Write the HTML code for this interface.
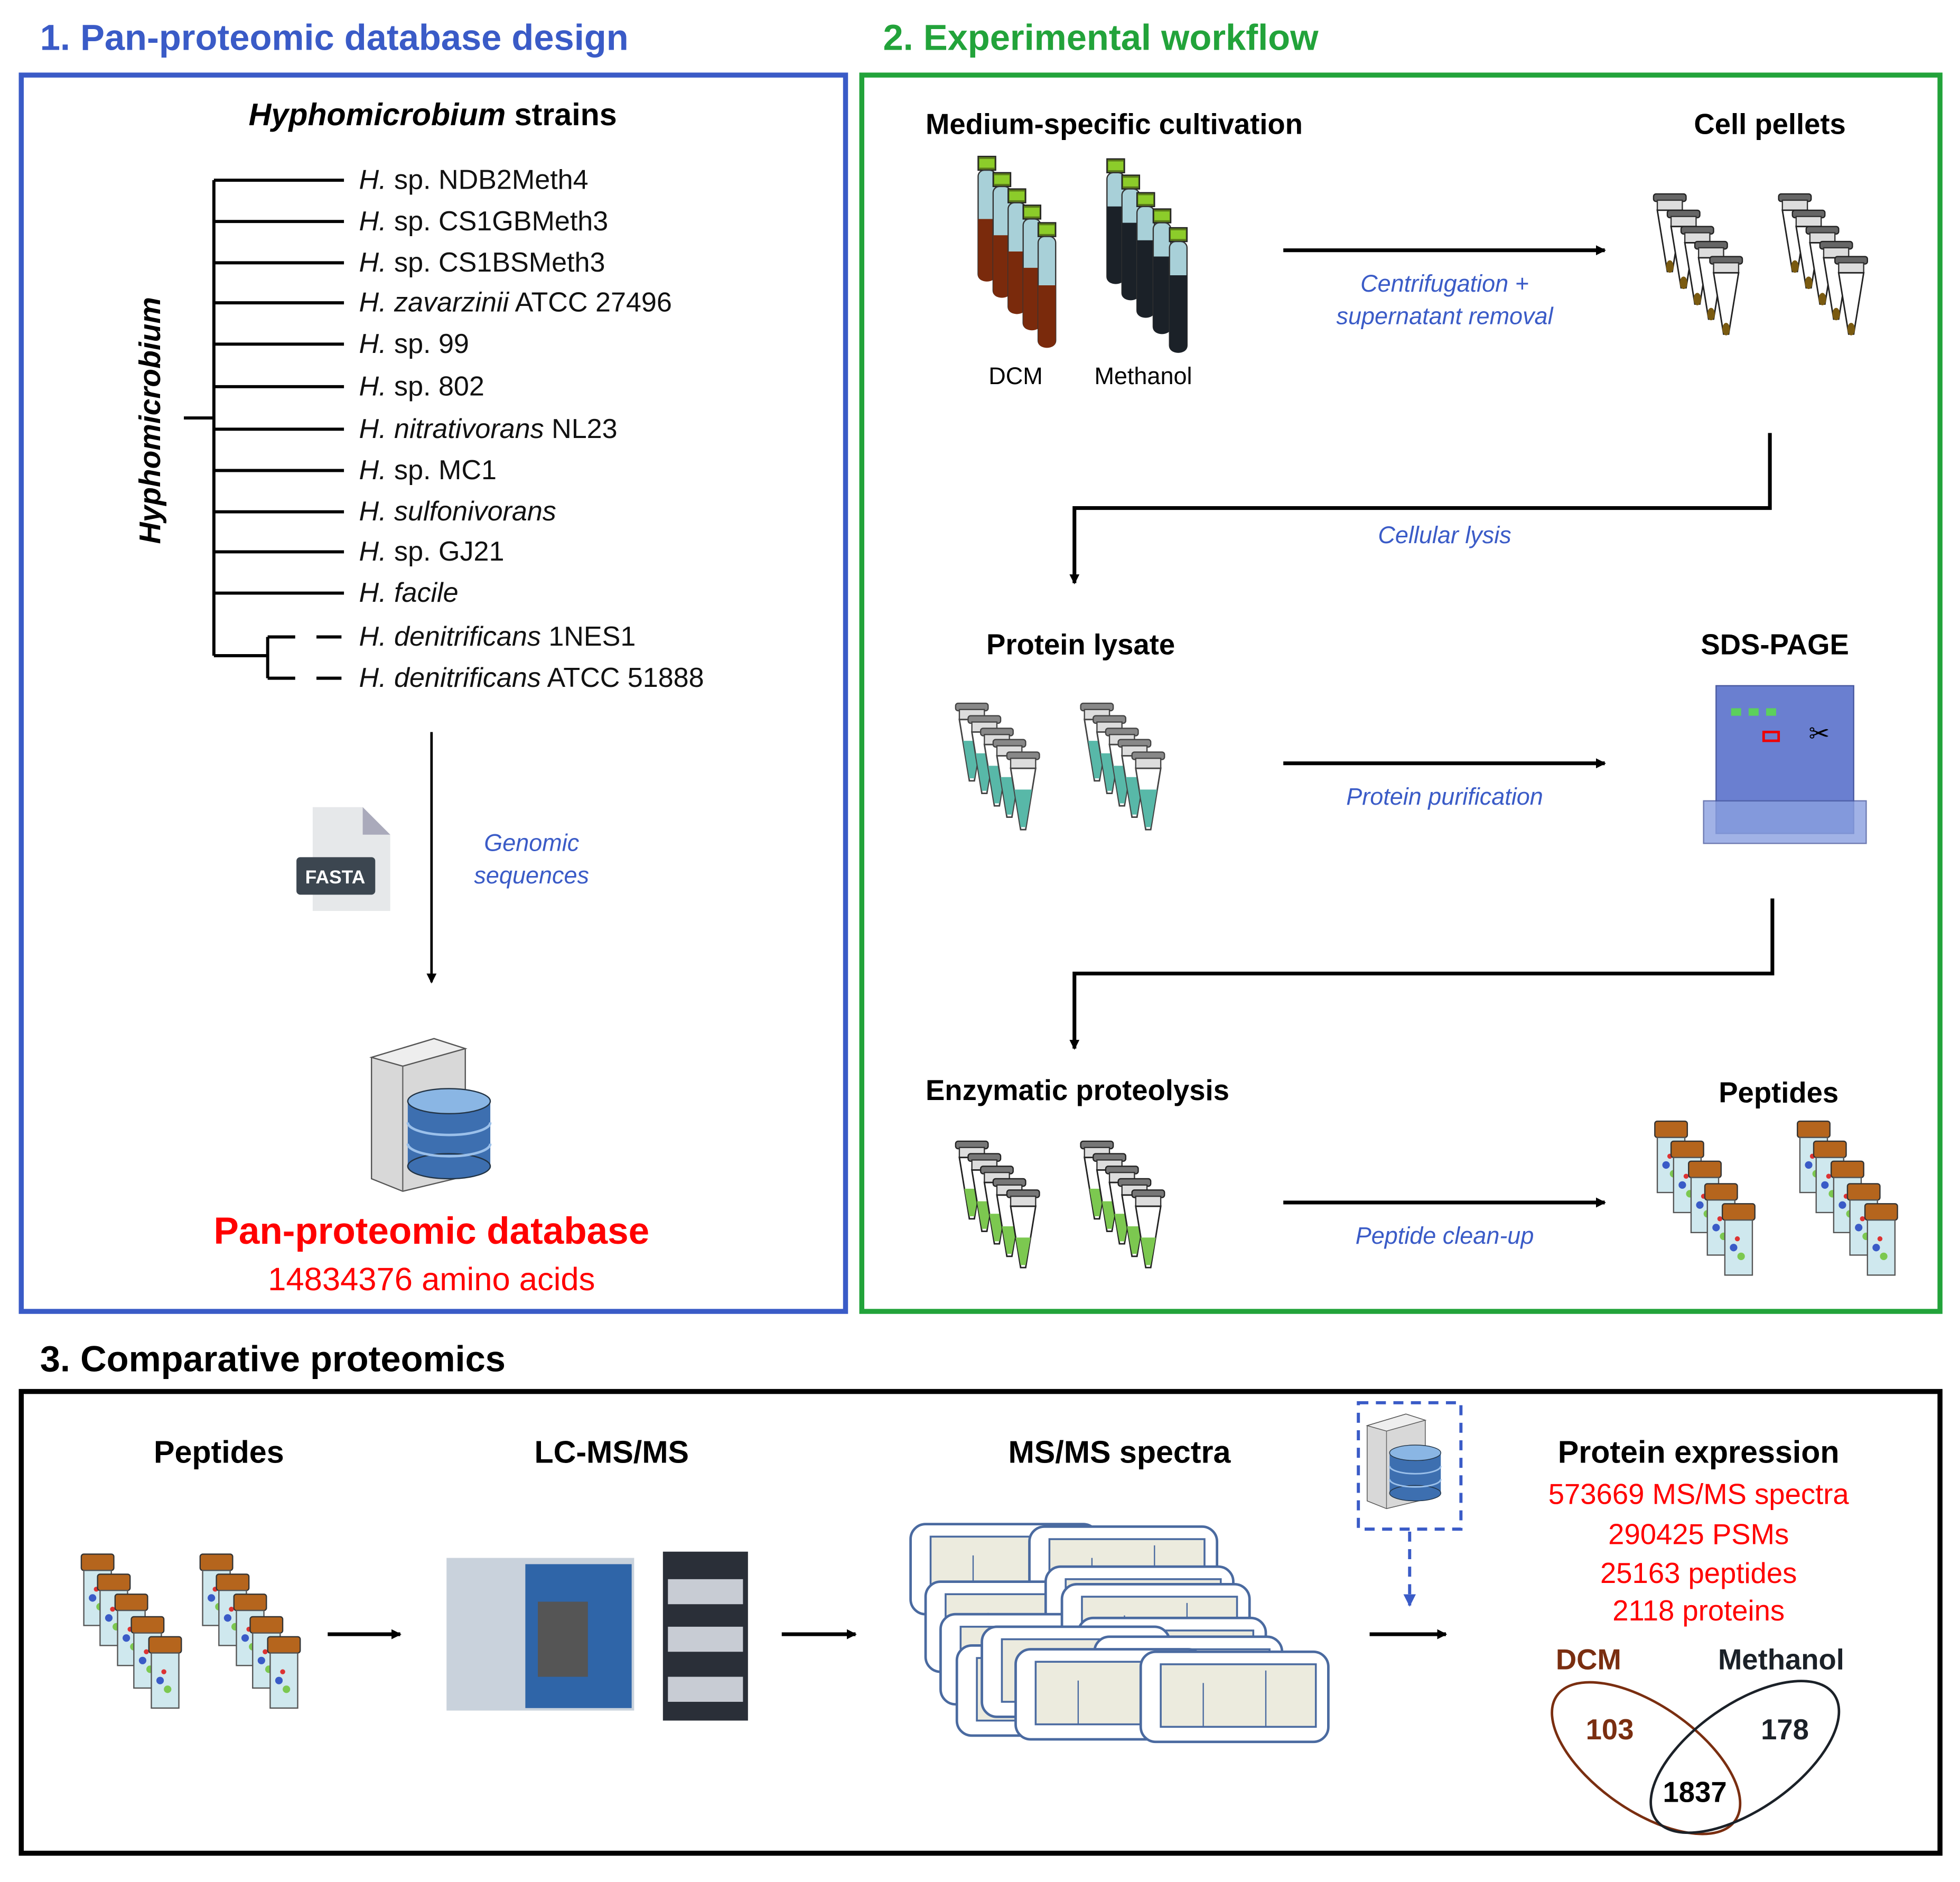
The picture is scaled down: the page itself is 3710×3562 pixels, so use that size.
<!DOCTYPE html>
<html><head><meta charset="utf-8"><style>html,body{margin:0;padding:0;background:#fff}svg{display:block}</style></head>
<body>
<svg width="3710" height="3562" viewBox="0 0 1567 1504" preserveAspectRatio="none" xmlns="http://www.w3.org/2000/svg" font-family="Liberation Sans, sans-serif">
<defs>
<marker id="ah" markerWidth="8" markerHeight="8" refX="7" refY="4" orient="auto" markerUnits="userSpaceOnUse"><path d="M0,0 L8,4 L0,8z" fill="#000"/></marker>
<marker id="ahb" markerWidth="10" markerHeight="10" refX="9" refY="5" orient="auto" markerUnits="userSpaceOnUse"><path d="M0,0 L10,5 L0,10z" fill="#3a5bc7"/></marker>
<g id="tubeR"><rect x="0" y="0" width="14" height="11" fill="#5a7a1a" stroke="#222" stroke-width="1"/><rect x="1" y="2" width="12" height="7" fill="#8ccc2a"/><rect x="0" y="11" width="14" height="88" rx="5" fill="#a8d0d8" stroke="#333" stroke-width="1"/><path d="M0,50 h14 v45 a7,5 0 0 1 -14,0z" fill="#7a2a0c"/></g>
<g id="tubeK"><rect x="0" y="0" width="14" height="11" fill="#5a7a1a" stroke="#222" stroke-width="1"/><rect x="1" y="2" width="12" height="7" fill="#8ccc2a"/><rect x="0" y="11" width="14" height="88" rx="5" fill="#a8d0d8" stroke="#333" stroke-width="1"/><path d="M0,38 h14 v57 a7,5 0 0 1 -14,0z" fill="#1b2128"/></g>
<g id="epp"><rect x="-3" y="0" width="26" height="6" rx="2" fill="#666" stroke="#222"/><rect x="0" y="5" width="20" height="8" fill="#ddd" stroke="#333"/><path d="M0,13 L20,13 L12,62 L8,62z" fill="#fff" stroke="#222" stroke-width="1.2"/><ellipse cx="10" cy="58" rx="3" ry="5" fill="#7a5a10"/></g>
<g id="eppG"><rect x="-3" y="0" width="26" height="6" rx="2" fill="#888" stroke="#444"/><rect x="0" y="5" width="20" height="8" fill="#ddd" stroke="#444"/><path d="M0,13 L20,13 L12,62 L8,62z" fill="#fff" stroke="#444" stroke-width="1.2"/><path d="M3,30 L17,30 L12,60 L8,60z" fill="#58b8a8"/></g>
<g id="eppL"><rect x="-3" y="0" width="26" height="6" rx="2" fill="#777" stroke="#222"/><rect x="0" y="5" width="20" height="8" fill="#ddd" stroke="#333"/><path d="M0,13 L20,13 L12,62 L8,62z" fill="#fff" stroke="#222" stroke-width="1.2"/><path d="M4,38 L16,38 L12,60 L8,60z" fill="#7cc850"/></g>
<g id="vial"><rect x="0" y="0" width="26" height="13" rx="2" fill="#b5651d" stroke="#333"/><rect x="2" y="13" width="22" height="44" fill="#cfe8ee" stroke="#555"/><circle cx="9" cy="35" r="3" fill="#3a5bc7"/><circle cx="15" cy="42" r="3" fill="#7cc850"/><circle cx="12" cy="28" r="2" fill="#d33"/></g>
<g id="spec"><rect x="0" y="0" width="150" height="72" rx="12" fill="#fff" stroke="#4a6aa0" stroke-width="2"/><rect x="16" y="10" width="124" height="50" fill="#ecebde" stroke="#4a6aa0" stroke-width="1.5"/><line x1="50" y1="60" x2="50" y2="25" stroke="#4a6aa0"/><line x1="100" y1="60" x2="100" y2="15" stroke="#4a6aa0"/></g>
<g id="db"><path d="M0,15 L50,0 L75,8 L75,110 L25,122 L0,112z" fill="#d8d8d8" stroke="#555"/><path d="M0,15 L50,0 L75,8 L25,22z" fill="#eee" stroke="#555"/><line x1="25" y1="22" x2="25" y2="122" stroke="#666"/><rect x="29" y="50" width="66" height="52" fill="#3d6fb0"/><ellipse cx="62" cy="102" rx="33" ry="10" fill="#3d6fb0" stroke="#234"/><path d="M29,67 a33,10 0 0 0 66,0 M29,84 a33,10 0 0 0 66,0" fill="none" stroke="#9bc0ea" stroke-width="2"/><ellipse cx="62" cy="50" rx="33" ry="10" fill="#8ab6e4" stroke="#234"/></g>
</defs>

<text x="32" y="40" font-size="29" font-weight="bold" fill="#3a5bc7">1. Pan-proteomic database design</text>
<text x="706" y="40" font-size="29" font-weight="bold" fill="#22a33a">2. Experimental workflow</text>
<text x="32" y="1096" font-size="29" font-weight="bold" fill="#000">3. Comparative proteomics</text>

<rect x="17" y="60" width="659" height="988" fill="none" stroke="#3a5bc7" stroke-width="4"/>
<rect x="689" y="60" width="862" height="988" fill="none" stroke="#22a33a" stroke-width="4"/>
<rect x="17" y="1112" width="1534" height="369" fill="none" stroke="#000" stroke-width="4"/>

<text x="346" y="100" font-size="25" font-weight="bold" text-anchor="middle"><tspan font-style="italic">Hyphomicrobium</tspan> strains</text>
<g stroke="#000" stroke-width="2.5" fill="none">
<line x1="171" y1="144" x2="171" y2="524"/>
<line x1="147" y1="334" x2="171" y2="334"/>
<path d="M171,144h104M171,177h104M171,210h104M171,242h104M171,275h104M171,309h104M171,343h104M171,376h104M171,409h104M171,441h104M171,474h104M171,524h43M214,509v33M214,509h22M214,542h22M253,509h20M253,542h20"/>
</g>
<text transform="translate(128,336) rotate(-90)" font-size="24" font-weight="bold" font-style="italic" text-anchor="middle">Hyphomicrobium</text>
<g font-size="22" fill="#111">
<text x="287" y="151"><tspan font-style="italic">H.</tspan> sp. NDB2Meth4</text>
<text x="287" y="184"><tspan font-style="italic">H.</tspan> sp. CS1GBMeth3</text>
<text x="287" y="217"><tspan font-style="italic">H.</tspan> sp. CS1BSMeth3</text>
<text x="287" y="249"><tspan font-style="italic">H. zavarzinii</tspan> ATCC 27496</text>
<text x="287" y="282"><tspan font-style="italic">H.</tspan> sp. 99</text>
<text x="287" y="316"><tspan font-style="italic">H.</tspan> sp. 802</text>
<text x="287" y="350"><tspan font-style="italic">H. nitrativorans</tspan> NL23</text>
<text x="287" y="383"><tspan font-style="italic">H.</tspan> sp. MC1</text>
<text x="287" y="416" font-style="italic">H. sulfonivorans</text>
<text x="287" y="448"><tspan font-style="italic">H.</tspan> sp. GJ21</text>
<text x="287" y="481" font-style="italic">H. facile</text>
<text x="287" y="516"><tspan font-style="italic">H. denitrificans</tspan> 1NES1</text>
<text x="287" y="549"><tspan font-style="italic">H. denitrificans</tspan> ATCC 51888</text>
</g>
<line x1="345" y1="585" x2="345" y2="785" stroke="#000" stroke-width="2" marker-end="url(#ah)"/>
<path d="M250,645 L290,645 L312,667 L312,728 L250,728z" fill="#e6e8ea"/><path d="M290,645 L312,667 L290,667z" fill="#aab"/>
<rect x="237" y="685" width="63" height="30" rx="3" fill="#3c4650"/><text x="268" y="706" font-size="15" font-weight="bold" fill="#fff" text-anchor="middle">FASTA</text>
<text x="425" y="680" font-size="19" font-style="italic" fill="#3a5bc7" text-anchor="middle">Genomic</text>
<text x="425" y="706" font-size="19" font-style="italic" fill="#3a5bc7" text-anchor="middle">sequences</text>
<use href="#db" x="297" y="830"/>
<text x="345" y="994" font-size="30" font-weight="bold" fill="#f00" text-anchor="middle">Pan-proteomic database</text>
<text x="345" y="1031" font-size="26" fill="#f00" text-anchor="middle">14834376 amino acids</text>

<g font-size="23" font-weight="bold">
<text x="740" y="107">Medium-specific cultivation</text>
<text x="1415" y="107" text-anchor="middle">Cell pellets</text>
<text x="864" y="523" text-anchor="middle">Protein lysate</text>
<text x="1419" y="523" text-anchor="middle">SDS-PAGE</text>
<text x="740" y="879">Enzymatic proteolysis</text>
<text x="1422" y="881" text-anchor="middle">Peptides</text>
</g>
<use href="#tubeR" x="782" y="125"/><use href="#tubeR" x="794" y="138"/><use href="#tubeR" x="806" y="151"/><use href="#tubeR" x="818" y="164"/><use href="#tubeR" x="830" y="178"/>
<use href="#tubeK" x="885" y="127"/><use href="#tubeK" x="897" y="140"/><use href="#tubeK" x="909" y="154"/><use href="#tubeK" x="922" y="167"/><use href="#tubeK" x="935" y="182"/>
<text x="812" y="307" font-size="19" text-anchor="middle">DCM</text>
<text x="914" y="307" font-size="19" text-anchor="middle">Methanol</text>
<line x1="1026" y1="200" x2="1283" y2="200" stroke="#000" stroke-width="3" marker-end="url(#ah)"/>
<text x="1155" y="233" font-size="19" font-style="italic" fill="#3a5bc7" text-anchor="middle">Centrifugation +</text>
<text x="1155" y="259" font-size="19" font-style="italic" fill="#3a5bc7" text-anchor="middle">supernatant removal</text>
<use href="#epp" x="1325" y="155"/><use href="#epp" x="1336" y="168"/><use href="#epp" x="1347" y="181"/><use href="#epp" x="1358" y="193"/><use href="#epp" x="1370" y="205"/>
<use href="#epp" x="1425" y="155"/><use href="#epp" x="1436" y="168"/><use href="#epp" x="1447" y="181"/><use href="#epp" x="1458" y="193"/><use href="#epp" x="1470" y="205"/>
<path d="M1415,346 V406 H859 V466" fill="none" stroke="#000" stroke-width="3" marker-end="url(#ah)"/>
<text x="1155" y="434" font-size="19" font-style="italic" fill="#3a5bc7" text-anchor="middle">Cellular lysis</text>
<use href="#eppG" x="767" y="562"/><use href="#eppG" x="777" y="572"/><use href="#eppG" x="787" y="582"/><use href="#eppG" x="797" y="591"/><use href="#eppG" x="808" y="601"/>
<use href="#eppG" x="867" y="562"/><use href="#eppG" x="877" y="572"/><use href="#eppG" x="887" y="582"/><use href="#eppG" x="897" y="591"/><use href="#eppG" x="908" y="601"/>
<line x1="1026" y1="610" x2="1283" y2="610" stroke="#000" stroke-width="3" marker-end="url(#ah)"/>
<text x="1155" y="643" font-size="19" font-style="italic" fill="#3a5bc7" text-anchor="middle">Protein purification</text>
<rect x="1372" y="548" width="110" height="118" fill="#6a7fd0" stroke="#4a5aa0"/>
<rect x="1362" y="640" width="130" height="34" fill="#8aa0e0" opacity="0.8" stroke="#4a5aa0"/>
<g fill="#5cd05c"><rect x="1384" y="566" width="8" height="6"/><rect x="1398" y="566" width="8" height="6"/><rect x="1412" y="566" width="8" height="6"/></g>
<rect x="1410" y="585" width="12" height="7" fill="none" stroke="#e00" stroke-width="2"/>
<text x="1446" y="593" font-size="20">✂</text>
<path d="M1417,718 V778 H859 V838" fill="none" stroke="#000" stroke-width="3" marker-end="url(#ah)"/>
<use href="#eppL" x="767" y="912"/><use href="#eppL" x="777" y="922"/><use href="#eppL" x="787" y="932"/><use href="#eppL" x="797" y="942"/><use href="#eppL" x="808" y="951"/>
<use href="#eppL" x="867" y="912"/><use href="#eppL" x="877" y="922"/><use href="#eppL" x="887" y="932"/><use href="#eppL" x="897" y="942"/><use href="#eppL" x="908" y="951"/>
<line x1="1026" y1="961" x2="1283" y2="961" stroke="#000" stroke-width="3" marker-end="url(#ah)"/>
<text x="1155" y="994" font-size="19" font-style="italic" fill="#3a5bc7" text-anchor="middle">Peptide clean-up</text>
<use href="#vial" x="1323" y="896"/><use href="#vial" x="1336" y="912"/><use href="#vial" x="1350" y="928"/><use href="#vial" x="1363" y="946"/><use href="#vial" x="1377" y="962"/>
<use href="#vial" x="1437" y="896"/><use href="#vial" x="1450" y="912"/><use href="#vial" x="1464" y="928"/><use href="#vial" x="1477" y="946"/><use href="#vial" x="1491" y="962"/>

<g font-size="25" font-weight="bold" text-anchor="middle">
<text x="175" y="1169">Peptides</text>
<text x="489" y="1169">LC-MS/MS</text>
<text x="895" y="1169">MS/MS spectra</text>
<text x="1358" y="1169">Protein expression</text>
</g>
<use href="#vial" x="65" y="1242"/><use href="#vial" x="78" y="1258"/><use href="#vial" x="92" y="1274"/><use href="#vial" x="105" y="1292"/><use href="#vial" x="119" y="1308"/>
<use href="#vial" x="160" y="1242"/><use href="#vial" x="173" y="1258"/><use href="#vial" x="187" y="1274"/><use href="#vial" x="200" y="1292"/><use href="#vial" x="214" y="1308"/>
<line x1="262" y1="1306" x2="320" y2="1306" stroke="#000" stroke-width="3" marker-end="url(#ah)"/>
<rect x="357" y="1245" width="150" height="122" fill="#c9d2dc"/><rect x="420" y="1250" width="85" height="115" fill="#2f65a8"/><rect x="430" y="1280" width="40" height="60" fill="#555"/>
<rect x="530" y="1240" width="68" height="135" fill="#2a2f38"/><rect x="534" y="1262" width="60" height="20" fill="#c8ccd4"/><rect x="534" y="1300" width="60" height="20" fill="#c8ccd4"/><rect x="534" y="1340" width="60" height="20" fill="#c8ccd4"/>
<line x1="625" y1="1306" x2="684" y2="1306" stroke="#000" stroke-width="3" marker-end="url(#ah)"/>
<use href="#spec" x="728" y="1218"/><use href="#spec" x="823" y="1220"/><use href="#spec" x="740" y="1264"/><use href="#spec" x="836" y="1252"/><use href="#spec" x="752" y="1290"/><use href="#spec" x="849" y="1266"/><use href="#spec" x="765" y="1315"/><use href="#spec" x="862" y="1293"/><use href="#spec" x="785" y="1300"/><use href="#spec" x="875" y="1308"/><use href="#spec" x="812" y="1318"/><use href="#spec" x="912" y="1320"/>
<rect x="1086" y="1121" width="82" height="101" fill="none" stroke="#3a5bc7" stroke-width="2.5" stroke-dasharray="8,6"/>
<use href="#db" x="0" y="0" transform="translate(1093,1130) scale(0.62)"/>
<line x1="1127" y1="1224" x2="1127" y2="1283" stroke="#3a5bc7" stroke-width="2.5" stroke-dasharray="8,6" marker-end="url(#ahb)"/>
<line x1="1095" y1="1306" x2="1156" y2="1306" stroke="#000" stroke-width="3" marker-end="url(#ah)"/>
<g font-size="23" fill="#f00" text-anchor="middle">
<text x="1358" y="1202">573669 MS/MS spectra</text>
<text x="1358" y="1234">290425 PSMs</text>
<text x="1358" y="1265">25163 peptides</text>
<text x="1358" y="1295">2118 proteins</text>
</g>
<text x="1270" y="1334" font-size="23" font-weight="bold" fill="#7a2e10" text-anchor="middle">DCM</text>
<text x="1424" y="1334" font-size="23" font-weight="bold" fill="#1b2128" text-anchor="middle">Methanol</text>
<ellipse cx="1316" cy="1405" rx="42" ry="87" transform="rotate(-55 1316 1405)" fill="none" stroke="#7a2e10" stroke-width="2"/>
<ellipse cx="1395" cy="1404" rx="42" ry="87" transform="rotate(55 1395 1404)" fill="none" stroke="#1b2128" stroke-width="2"/>
<text x="1287" y="1390" font-size="23" font-weight="bold" fill="#7a2e10" text-anchor="middle">103</text>
<text x="1427" y="1390" font-size="23" font-weight="bold" fill="#1b2128" text-anchor="middle">178</text>
<text x="1355" y="1440" font-size="23" font-weight="bold" fill="#000" text-anchor="middle">1837</text>
</svg>
</body></html>
